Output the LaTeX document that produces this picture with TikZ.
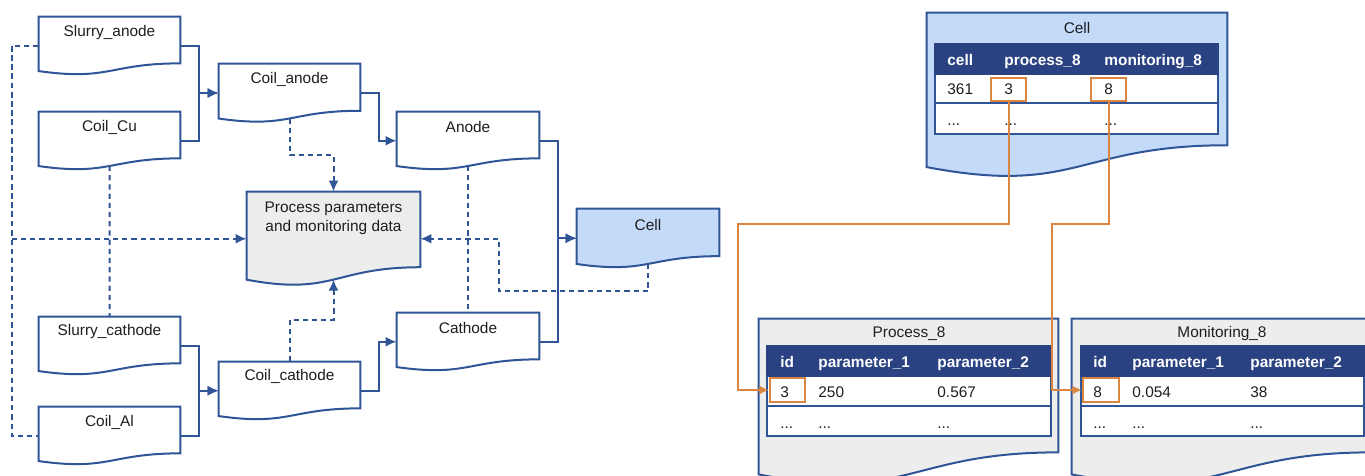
\documentclass[tikz,border=0pt]{standalone}
\usepackage{fontspec}
\setmainfont{Liberation Sans}
\usetikzlibrary{calc,fit,arrows.meta}

\definecolor{lineblue}{HTML}{2F5597}
\definecolor{navy}{HTML}{2A4282}
\definecolor{cellblue}{HTML}{C3DAF9}
\definecolor{docgray}{HTML}{EDEDED}
\definecolor{keyorange}{HTML}{DA8640}
\definecolor{ink}{HTML}{1E1E1E}

\tikzset{
  outline/.style={draw=lineblue, line width=1pt, line join=miter},
  whitedoc/.style={outline, fill=white},
  bluedoc/.style={outline, fill=cellblue},
  graydoc/.style={outline, fill=docgray},
  flow/.style={draw=lineblue, line width=1pt, -{Latex[length=5.5pt,width=5pt]}},
  dflow/.style={flow, dash pattern=on 2.6pt off 2pt},
  dline/.style={draw=lineblue, line width=1pt, dash pattern=on 2.6pt off 2pt},
  link/.style={draw=keyorange, line width=1pt, -{Latex[length=4.8pt,width=4.5pt]}},
  keybox/.style={draw=keyorange, line width=1pt, inner sep=0pt},
  txt/.style={font=\fontsize{7.7}{9.5}\selectfont, inner sep=0pt, text=ink},
  cellt/.style={txt, anchor=base west},
  headt/.style={txt, anchor=base west, text=white, font=\fontsize{7.7}{9.5}\selectfont\bfseries},
  tabrow/.style={draw=lineblue, line width=0.7pt, fill=white},
  tabhead/.style={draw=navy, line width=0.7pt, fill=navy},
}

% document symbol: name, style, left x, top y, width, nominal height
\newcommand\docshape[6]{%
  \coordinate (#1-nw) at (#3,#4);
  \coordinate (#1-se) at ({#3+#5},{#4+#6});
  \node[fit=(#1-nw)(#1-se), inner sep=0pt] (#1) {};
  \path[#2] (#1.north west) -- (#1.north east)
    -- ($(#1.north east)!0.802!(#1.south east)$)
    .. controls ($(#1.north)!0.802!(#1.south)$) and ($(#1.north)!1.1075!(#1.south)$)
    .. ($(#1.north west)!0.934!(#1.south west)$) -- cycle;
  \coordinate (#1-w) at ($(#1.north)!0.933!(#1.south)$);
}

\begin{document}
\begin{tikzpicture}[x=0.5pt, y=-0.5pt]
\useasboundingbox (0,0) rectangle (1365,476);
\clip (0,0) rectangle (1365,476);

% ---------- production chain ----------
\docshape{sa}{whitedoc}{39}{17}{141}{57.5}
\docshape{cu}{whitedoc}{39}{112}{141}{57.5}
\docshape{ca}{whitedoc}{219}{64}{141}{58}
\docshape{an}{whitedoc}{397}{112}{142}{57.5}
\docshape{pp}{graydoc}{247}{192}{173}{93.5}
\docshape{cl}{bluedoc}{577}{209}{142}{58.5}
\docshape{sc}{whitedoc}{39}{317}{141}{57.5}
\docshape{al}{whitedoc}{39}{407}{141}{57.5}
\docshape{cc}{whitedoc}{219}{362}{141}{57.5}
\docshape{ct}{whitedoc}{397}{313}{142}{57.5}

\node[txt] (sa-t) at ($(sa.north)+(0,16)$) {Slurry\_anode};
\node[txt] (cu-t) at ($(cu.north)+(0,16)$) {Coil\_Cu};
\node[txt] (ca-t) at ($(ca.north)+(0,16)$) {Coil\_anode};
\node[txt] (an-t) at ($(an.north)+(0,15)$) {Anode};
\node[txt] (cl-t) at ($(cl.north)+(0,16)$) {Cell};
\node[txt] (sc-t) at ($(sc.north)+(0,15)$) {Slurry\_cathode};
\node[txt] (al-t) at ($(al.north)+(0,16)$) {Coil\_Al};
\node[txt] (cc-t) at ($(cc.north)+(0,15)$) {Coil\_cathode};
\node[txt] (ct-t) at ($(ct.north)+(0,15)$) {Cathode};
\node[txt, align=center] (pp-t) at ($(pp.north)+(0,26.5)$) {Process parameters\\and monitoring data};

% material flow
\draw[flow] (sa.east) -- ++(19,0) |- (ca.west);
\draw[flow] (cu.east) -- ++(19,0) |- (ca.west);
\draw[flow] (ca.east) -- ++(19,0) |- (an.west);
\draw[flow] (sc.east) -- ++(19,0) |- (cc.west);
\draw[flow] (al.east) -- ++(19,0) |- (cc.west);
\draw[flow] (cc.east) -- ++(19,0) |- (ct.west);
\draw[flow] (an.east) -- ++(19,0) |- (cl.west);
\draw[flow] (ct.east) -- ++(19,0) |- (cl.west);

% data flow
\draw[dline] (sa.west) -- ++(-27,0) |- (al.west);
\draw[dflow] ($(sa.west)+(-27,0)$) |- (pp.west);
\draw[dline] (cu-w) -- (sc.north);
\draw[dline] (an-w) -- (ct.north);
\draw[dflow] (ca-w) -- ++(0,37) -| (pp.north);
\draw[dflow] (cc.north) -- ++(0,-42) -| (pp-w);
\draw[dflow] (cl-w) -- ++(0,27.5) -| ($(pp.east)+(79,0)$) -- (pp.east);

% ---------- database tables ----------
% Cell
\docshape{cellt}{bluedoc}{927}{13}{300}{164.6}
\node[txt] (cellt-t) at (1077,28) {Cell};
\path[tabrow] (935,74) rectangle (1218,134);
\draw[lineblue, line width=0.7pt] (935,103) -- (1218,103);
\path[tabhead] (935,44) rectangle (1218,74);
\node[headt] (h-cell) at (947,65.5) {cell};
\node[headt] (h-proc) at (1004,65.5) {process\_8};
\node[headt] (h-mon) at (1104,65.5) {monitoring\_8};
\node[cellt] (c-361) at (947,95) {361};
\node[cellt] (c-p3) at (1004,95) {3};
\node[cellt] (c-m8) at (1104,95) {8};
\node[cellt] (c-d1) at (947,126) {...};
\node[cellt] (c-d2) at (1004,126) {...};
\node[cellt] (c-d3) at (1104,126) {...};
\node[keybox, minimum width=17.5pt, minimum height=11.5pt] (kp) at (1008.5,89.5) {};
\node[keybox, minimum width=17.5pt, minimum height=11.5pt] (km) at (1108.5,89.5) {};

% Process_8
\docshape{proc}{graydoc}{759}{319}{299}{166}
\node[txt] (proc-t) at (909,334) {Process\_8};
\path[tabrow] (767,376) rectangle (1051,436);
\draw[lineblue, line width=0.7pt] (767,406) -- (1051,406);
\path[tabhead] (767,346) rectangle (1051,376);
\node[headt] (p-hid) at (780,367) {id};
\node[headt] (p-h1) at (818,367) {parameter\_1};
\node[headt] (p-h2) at (937,367) {parameter\_2};
\node[cellt] (p-id) at (780,397) {3};
\node[cellt] (p-v1) at (818,397) {250};
\node[cellt] (p-v2) at (937,397) {0.567};
\node[cellt] (p-d1) at (780,428) {...};
\node[cellt] (p-d2) at (818,428) {...};
\node[cellt] (p-d3) at (937,428) {...};
\node[keybox, minimum width=17.5pt, minimum height=12pt] (pid) at (787.5,390) {};

% Monitoring_8
\docshape{mon}{graydoc}{1072}{319}{299}{166}
\node[txt] (mon-t) at (1222,334) {Monitoring\_8};
\path[tabrow] (1081,376) rectangle (1364,436);
\draw[lineblue, line width=0.7pt] (1081,406) -- (1364,406);
\path[tabhead] (1081,346) rectangle (1364,376);
\node[headt] (m-hid) at (1093,367) {id};
\node[headt] (m-h1) at (1132,367) {parameter\_1};
\node[headt] (m-h2) at (1250,367) {parameter\_2};
\node[cellt] (m-id) at (1093,397) {8};
\node[cellt] (m-v1) at (1132,397) {0.054};
\node[cellt] (m-v2) at (1250,397) {38};
\node[cellt] (m-d1) at (1093,428) {...};
\node[cellt] (m-d2) at (1132,428) {...};
\node[cellt] (m-d3) at (1250,428) {...};
\node[keybox, minimum width=18pt, minimum height=12pt] (mid) at (1101,390) {};

% foreign keys
\draw[link] (kp.south) -- ++(0,122) -| ($(pid.west)+(-31,0)$) -- (pid.west);
\draw[link] (km.south) -- ++(0,122) -| ($(mid.west)+(-30,0)$) -- (mid.west);
\end{tikzpicture}
\end{document}
